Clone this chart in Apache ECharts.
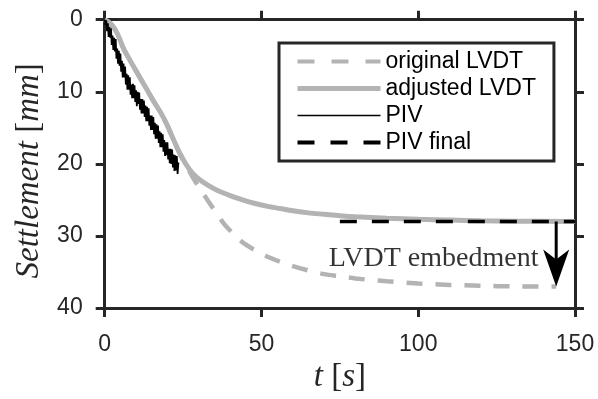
<!DOCTYPE html>
<html><head><meta charset="utf-8">
<script src="https://cdn.jsdelivr.net/npm/echarts@6/dist/echarts.min.js"></script>
<style>html,body{margin:0;padding:0;background:#fff}#c{width:598px;height:399px}</style>
</head><body><div id="c"></div>
<script>
// ---- data ----
const xTickValues = [0, 50, 100, 150];
const yTickValues = [0, 10, 20, 30, 40];

const origTime  = [0, 2, 4, 6, 8, 10, 12, 14, 16, 18, 20, 22, 24, 26, 28, 30, 32, 34, 36, 38, 41, 44, 48, 52, 56, 60, 65, 70, 75, 80, 90, 100, 110, 120, 130, 144];
const origValue = [0, 0.6, 1.9, 4.0, 5.6, 7.1, 8.6, 10.1, 11.6, 13.0, 14.7, 16.7, 18.6, 20.2, 21.8, 23.2, 24.5, 25.8, 27.0, 28.3, 29.7, 30.9, 32.0, 32.9, 33.6, 34.2, 34.8, 35.3, 35.6, 35.9, 36.3, 36.6, 36.8, 36.9, 37.0, 37.0];

const adjTime  = [0, 2, 4, 6, 8, 10, 12, 14, 16, 18, 20, 22, 24, 26, 28, 30, 33, 36, 40, 44, 48, 52, 56, 60, 65, 70, 75, 80, 90, 100, 110, 120, 130, 150];
const adjValue = [0, 0.6, 1.9, 4.0, 5.6, 7.1, 8.6, 10.1, 11.6, 13.0, 14.7, 16.7, 18.6, 20.1, 21.3, 22.1, 23.0, 23.7, 24.4, 25.0, 25.5, 25.9, 26.2, 26.5, 26.8, 27.0, 27.2, 27.35, 27.55, 27.7, 27.8, 27.9, 27.95, 28.0];

const pivTime = [0, 0.25, 0.5, 0.75, 1, 1.25, 1.5, 1.75, 2, 2.25, 2.5, 2.75, 3, 3.25, 3.5, 3.75, 4, 4.25, 4.5, 4.75, 5, 5.25, 5.5, 5.75, 6, 6.25, 6.5, 6.75, 7, 7.25, 7.5, 7.75, 8, 8.25, 8.5, 8.75, 9, 9.25, 9.5, 9.75, 10, 10.25, 10.5, 10.75, 11, 11.25, 11.5, 11.75, 12, 12.25, 12.5, 12.75, 13, 13.25, 13.5, 13.75, 14, 14.25, 14.5, 14.75, 15, 15.25, 15.5, 15.75, 16, 16.25, 16.5, 16.75, 17, 17.25, 17.5, 17.75, 18, 18.25, 18.5, 18.75, 19, 19.25, 19.5, 19.75, 20, 20.25, 20.5, 20.75, 21, 21.25, 21.5, 21.75, 22, 22.25, 22.5, 22.75, 23, 23.25, 23.5];
const pivValue = [0, 0.7, 0.1, 1.6, 0.5, 2.4, 1.0, 2.5, 1.2, 3.5, 2.2, 4.2, 2.5, 4.4, 2.7, 5.4, 4.0, 6.1, 4.3, 6.4, 4.7, 7.2, 5.7, 8.0, 6.1, 8.0, 6.5, 9.0, 7.5, 9.7, 7.7, 9.7, 8.0, 10.4, 9.0, 10.9, 8.9, 10.9, 9.1, 11.4, 9.8, 12.0, 10.0, 11.7, 10.1, 12.5, 11.0, 13.0, 11.0, 13.0, 11.2, 13.5, 11.9, 14.1, 12.1, 14.1, 12.3, 14.7, 13.3, 15.3, 13.3, 15.3, 13.5, 15.9, 14.3, 16.5, 14.5, 16.5, 14.7, 17.1, 15.5, 17.7, 15.7, 17.7, 15.9, 18.3, 16.7, 18.9, 17.0, 18.8, 17.0, 19.4, 17.9, 19.9, 17.9, 20.0, 18.0, 20.5, 18.7, 21.0, 18.8, 20.9, 18.9, 21.4, 19.8];

const pivFinalTime  = [75, 150];
const pivFinalValue = [28, 28];

const arrowTime = 144;
const arrowFrom = 28;
const arrowTo = 37;

const annotationText = 'LVDT embedment';
const annotationPos = [138.5, 33.2];

const seriesNames = ['original LVDT', 'adjusted LVDT', 'PIV', 'PIV final'];

// ---- build ----
const zip = (a, b) => a.map((v, i) => [v, b[i]]);
const GRAY = '#b3b3b3';
const AX = '#262626';
const SANS = 'Liberation Sans, Arial, Helvetica, sans-serif';
const SERIF = 'Liberation Serif, Times New Roman, serif';

const chart = echarts.init(document.getElementById('c'), null, {renderer: 'canvas'});

const axisCommon = {
  axisLine: {show: true, onZero: false, lineStyle: {color: AX, width: 3}},
  axisTick: {show: true, inside: false, length: 9, lineStyle: {color: AX, width: 3}},
  splitLine: {show: false}
};

const hiddenSymbol = {color: 'rgba(0,0,0,0)', borderWidth: 0, opacity: 0};

chart.setOption({
  animation: false,
  backgroundColor: '#fff',
  grid: {left: 104.7, right: 23, top: 19.7, bottom: 89, containLabel: false},
  xAxis: [
    Object.assign({}, axisCommon, {
      type: 'value', min: 0, max: 150, interval: 50, position: 'bottom',
      axisLabel: {show: true, margin: 25, fontFamily: SANS, fontSize: 23, color: AX},
      name: '{i|t} [{i|s}]', nameLocation: 'middle', nameGap: 53,
      nameTextStyle: {fontFamily: SERIF, fontSize: 33, color: AX,
        rich: {i: {fontFamily: SERIF, fontStyle: 'italic', fontSize: 33, color: AX}}}
    }),
    Object.assign({}, axisCommon, {
      type: 'value', min: 0, max: 150, interval: 50, position: 'top',
      axisLabel: {show: false}
    })
  ],
  yAxis: [
    Object.assign({}, axisCommon, {
      type: 'value', min: 0, max: 40, interval: 10, inverse: true, position: 'left',
      axisLabel: {show: true, margin: 22, fontFamily: SANS, fontSize: 23, color: AX},
      name: '{i|Settlement} [{i|mm}]', nameLocation: 'middle', nameGap: 58, nameRotate: 90,
      nameTextStyle: {fontFamily: SERIF, fontSize: 33, color: AX, padding: [0, 14, 0, 0],
        rich: {i: {fontFamily: SERIF, fontStyle: 'italic', fontSize: 33, color: AX}}}
    }),
    Object.assign({}, axisCommon, {
      type: 'value', min: 0, max: 40, interval: 10, inverse: true, position: 'right',
      axisLabel: {show: false}
    })
  ],
  legend: {
    show: true, orient: 'vertical', left: 279, top: 43,
    padding: [7, 18, 7, 16], itemGap: 4, itemWidth: 83, itemHeight: 26,
    borderColor: AX, borderWidth: 3, backgroundColor: '#fff',
    textStyle: {fontFamily: SANS, fontSize: 23, color: '#000'},
    data: [
      {name: seriesNames[0], itemStyle: hiddenSymbol, lineStyle: {color: GRAY, width: 4, type: [17, 17]}},
      {name: seriesNames[1], itemStyle: hiddenSymbol, lineStyle: {color: GRAY, width: 5, type: 'solid'}},
      {name: seriesNames[2], itemStyle: hiddenSymbol, lineStyle: {color: '#000', width: 1.5, type: 'solid'}},
      {name: seriesNames[3], itemStyle: hiddenSymbol, lineStyle: {color: '#000', width: 4, type: [17, 16]}}
    ]
  },
  series: [
    {name: seriesNames[0], type: 'line', data: zip(origTime, origValue), symbol: 'none', smooth: 0.3,
      lineStyle: {color: GRAY, width: 4.5, type: [16, 13]}, itemStyle: {color: GRAY}, z: 2},
    {name: seriesNames[1], type: 'line', data: zip(adjTime, adjValue), symbol: 'none', smooth: 0.3,
      lineStyle: {color: GRAY, width: 5, type: 'solid'}, itemStyle: {color: GRAY}, z: 3},
    {name: seriesNames[2], type: 'line', data: zip(pivTime, pivValue), symbol: 'none',
      lineStyle: {color: '#000', width: 1.8, type: 'solid'}, itemStyle: {color: '#000'}, z: 4},
    {name: seriesNames[3], type: 'line', data: zip(pivFinalTime, pivFinalValue), symbol: 'none',
      lineStyle: {color: '#000', width: 3.5, type: [17, 15]}, itemStyle: {color: '#000'}, z: 5},
    {type: 'custom', name: 'arrow', z: 6, silent: true,
      data: [[arrowTime, arrowFrom, arrowTo]],
      renderItem: function (params, api) {
        const p1 = api.coord([api.value(0), api.value(1)]);
        const p2 = api.coord([api.value(0), api.value(2)]);
        return {type: 'group', children: [
          {type: 'line', shape: {x1: p1[0], y1: p1[1], x2: p2[0], y2: p2[1] - 20},
            style: {stroke: '#000', lineWidth: 3}},
          {type: 'polygon', shape: {points: [[p2[0], p2[1]], [p2[0] + 13, p2[1] - 37], [p2[0], p2[1] - 27], [p2[0] - 13, p2[1] - 37]]},
            style: {fill: '#000'}}
        ]};
      }
    },
    {type: 'scatter', name: 'annotation', z: 6, silent: true, symbolSize: 1,
      itemStyle: {color: 'rgba(0,0,0,0)'},
      data: [annotationPos],
      label: {show: true, position: 'left', distance: 0, formatter: annotationText,
        fontFamily: SERIF, fontSize: 28, color: '#000'}
    }
  ]
});
</script>
</body></html>
